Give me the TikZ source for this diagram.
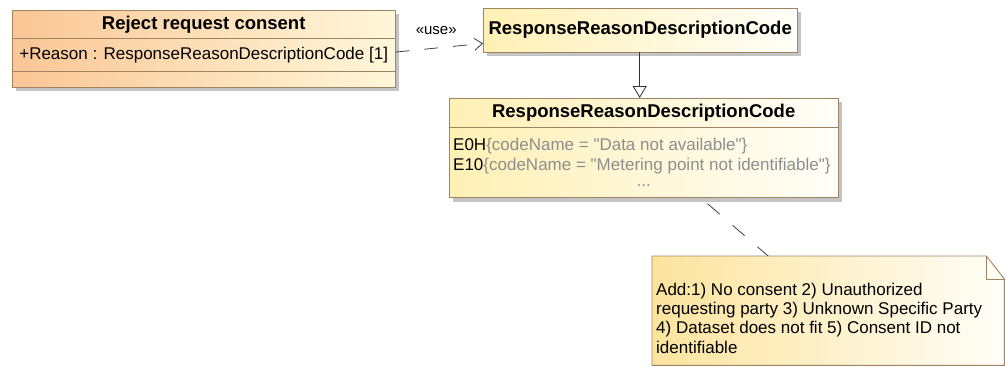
\documentclass[tikz,border=0pt]{standalone}
\usepackage{fontspec}
\setmainfont{Liberation Sans}[Ligatures=TeXOff]
\usepackage{xcolor}
\usetikzlibrary{positioning}
\usetikzlibrary{arrows.meta}
\usetikzlibrary{calc}
\usetikzlibrary{fit}
\usetikzlibrary{backgrounds}
\usetikzlibrary{shadows}

\definecolor{umlorange}{HTML}{FAC695}
\definecolor{umlcream}{HTML}{FFF7DA}
\definecolor{umlyellow}{HTML}{FFF0B5}
\definecolor{umlpale}{HTML}{FFFEF8}
\definecolor{noteyellow}{HTML}{FCE49E}
\definecolor{umlborder}{HTML}{A08462}
\definecolor{codegray}{HTML}{8E8E8E}
\definecolor{umlshadow}{HTML}{C4C4C4}

\begin{document}
\begin{tikzpicture}[
  x=1pt, y=-1pt,
  font=\fontsize{17}{19}\selectfont,
  hdr/.style={inner xsep=4pt, inner ysep=0pt, anchor=north west,
    font=\fontsize{18.5}{20}\selectfont\bfseries},
  compart/.style={inner xsep=4pt, inner ysep=0pt, anchor=north west, align=left},
  classbg/.style={draw=umlborder, line width=0.9pt, inner sep=0pt,
    drop shadow={shadow xshift=4pt, shadow yshift=-4pt, fill=umlshadow, opacity=1}},
  sep/.style={umlborder, line width=0.8pt},
  usearrow/.style={-{Straight Barb[length=8pt, width=12pt]}, dash pattern=on 14pt off 15pt, line width=0.8pt, black!75},
  genarrow/.style={-{Triangle[open, fill=white, length=12pt, width=14pt]}, line width=0.8pt, black!80},
  anchorline/.style={dash pattern=on 16pt off 17pt, dash phase=24pt, line width=0.8pt, black!75},
  codename/.style={codegray}
]
\useasboundingbox (0,0) rectangle (1005,367);

% Reject request consent
\node[hdr, minimum width=383pt, minimum height=30pt, yshift=-2pt] (rrc) at (12,8) {Reject request consent};
\node[compart, minimum width=383pt, minimum height=33pt] (rrcattr) at ([yshift=2pt]rrc.south west)
  {+Reason : ResponseReasonDescriptionCode [1]};
\node[compart, minimum width=383pt, minimum height=15pt] (rrcops) at (rrcattr.south west) {};

% ResponseReasonDescriptionCode (class)
\node[hdr, minimum width=314pt, minimum height=44pt, anchor=north west] (rrdc) at (483,8)
  {ResponseReasonDescriptionCode};

% ResponseReasonDescriptionCode (enumeration)
\node[hdr, minimum width=389pt, minimum height=29pt] (enumhdr) at (449,98)
  {ResponseReasonDescriptionCode};
\node[compart, minimum width=389pt, minimum height=70pt, inner ysep=4pt, anchor=north west,
  font=\fontsize{17}{20}\selectfont] (enumlits) at (enumhdr.south west)
  {E0H{\color{codegray}\{codeName = "Data not available"\}}\\
   E10{\color{codegray}\{codeName = "Metering point not identifiable"\}}\\[-4pt]
   \makebox[381pt]{\color{codegray}...}};

% note
\node[minimum width=352pt, minimum height=109pt, inner sep=0pt, anchor=north west] (note) at (652,256) {};
\node[compart, anchor=north west, font=\fontsize{17}{19.2}\selectfont] (notetxt)
  at ([xshift=0pt, yshift=-27pt]note.north west)
  {Add:1) No consent 2) Unauthorized\\
   requesting party 3) Unknown Specific Party\\
   4) Dataset does not fit 5) Consent ID not\\
   identifiable};

\begin{scope}[on background layer]
  % class bodies
  \node[classbg, fit=(rrc)(rrcops), left color=umlorange, right color=umlcream] (rrcbox) {};
  \node[classbg, fit=(rrdc), left color=umlyellow, right color=umlpale] (rrdcbox) {};
  \node[classbg, fit=(enumhdr)(enumlits), left color=umlyellow, right color=umlpale] (enumbox) {};
  % note body
  \path[left color=noteyellow, right color=umlpale, draw=umlborder, line width=0.9pt]
    (note.north west) -- ([xshift=-18pt]note.north east) -- ([yshift=-23pt]note.north east)
    -- (note.south east) -- (note.south west) -- cycle;
  \draw[umlborder, line width=0.9pt] ([xshift=-18pt]note.north east) |- ([yshift=-23pt]note.north east);
\end{scope}

% compartment lines
\draw[sep] (rrcattr.north west) -- (rrcattr.north east);
\draw[sep] (rrcattr.south west) -- (rrcattr.south east);
\draw[sep] (enumhdr.south west) -- (enumhdr.south east);

% connectors
\draw[usearrow] ([yshift=3pt]rrcattr.east) -- node[above=9pt, font=\fontsize{15}{16}\selectfont, black, xshift=-3pt] (uselbl) {«use»} ([yshift=9pt]rrdc.south west);
\draw[genarrow] ([xshift=-0.5pt]rrdc.south) -- ([xshift=-4pt]enumhdr.north);
\draw[anchorline] ([xshift=57pt]enumlits.south) -- ([xshift=-60pt]note.north);

\end{tikzpicture}
\end{document}
